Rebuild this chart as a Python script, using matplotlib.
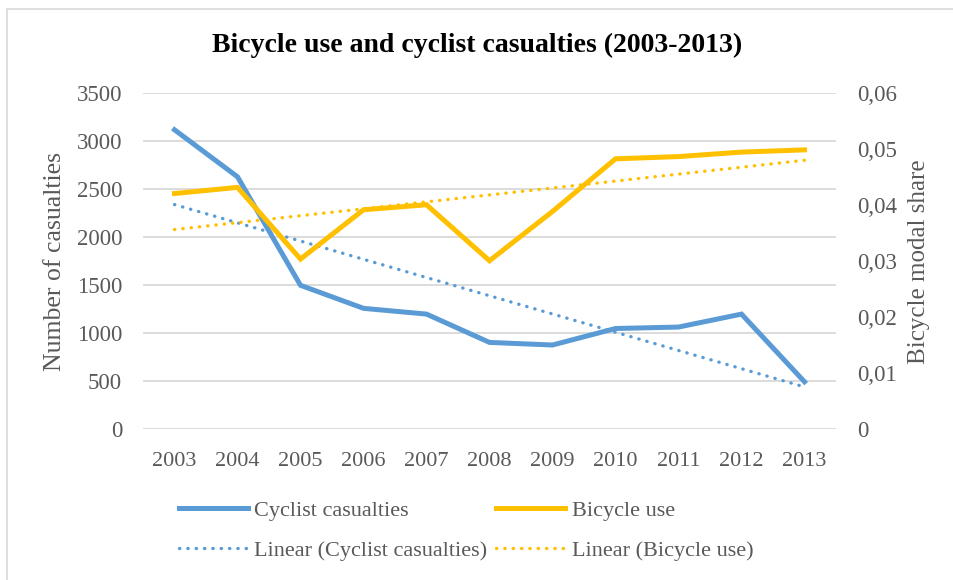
import numpy as np
import matplotlib
matplotlib.use("Agg")
import matplotlib.pyplot as plt
from matplotlib.patches import Rectangle
from matplotlib.ticker import FuncFormatter

years = ["2003", "2004", "2005", "2006", "2007", "2008", "2009", "2010", "2011", "2012", "2013"]
casualties = [3120, 2630, 1500, 1260, 1200, 905, 878, 1050, 1065, 1200, 495]
bicycle_use = [0.0421, 0.0432, 0.0304, 0.0392, 0.0401, 0.0301, 0.0389, 0.0483, 0.0487, 0.0495, 0.0499]

blue = "#5B9BD5"
gold = "#FFC000"
grey_txt = "#595959"
grid_col = "#D9D9D9"

plt.rcParams["font.family"] = ["Liberation Serif", "DejaVu Serif"]

fig = plt.figure(figsize=(9.54, 5.80), dpi=100)
fig.patches.append(Rectangle((7 / 954, -0.1), 1.2, 0.1 + 1 - 9 / 580, transform=fig.transFigure,
                             fill=False, edgecolor=grid_col, lw=1.2, zorder=0))

ax = fig.add_axes([143 / 954, 1 - 429.3 / 580, 693 / 954, 336 / 580])
ax2 = ax.twinx()

x = np.arange(len(years))

# trend lines (Excel "Linear" trendline = least squares fit)
c_fit = np.polyval(np.polyfit(x, casualties, 1), x)
b_fit = np.polyval(np.polyfit(x, bicycle_use, 1), x)

dot = (0, (0.1, 2.4))
l1, = ax.plot(x, casualties, color=blue, lw=3.6, solid_joinstyle="miter", zorder=3)
l3, = ax.plot(x, c_fit, color=blue, lw=2.4, linestyle=dot, dash_capstyle="round", zorder=3)
l2, = ax2.plot(x, bicycle_use, color=gold, lw=3.6, solid_joinstyle="miter", zorder=3)
l4, = ax2.plot(x, b_fit, color=gold, lw=2.4, linestyle=dot, dash_capstyle="round", zorder=3)

ax.set_xlim(-0.5, len(years) - 0.5)
ax.set_ylim(0, 3500)
ax.set_yticks(np.arange(0, 3501, 500))
ax2.set_ylim(0, 0.06)
ax2.set_yticks(np.arange(0, 0.0601, 0.01))
ax2.yaxis.set_major_formatter(FuncFormatter(lambda v, p: "0" if abs(v) < 1e-9 else f"{v:.2f}".replace(".", ",")))

ax.set_xticks(x)
ax.set_xticklabels(years)
ax.grid(axis="y", color=grid_col, lw=1.3)
ax.set_axisbelow(True)
for a in (ax, ax2):
    for s in a.spines.values():
        s.set_visible(False)
ax.tick_params(axis="x", length=0, pad=16, labelsize=16, labelcolor=grey_txt)
ax.tick_params(axis="y", length=0, pad=15, labelsize=16.5, labelcolor=grey_txt)
ax2.tick_params(axis="y", length=0, pad=15, labelsize=16.5, labelcolor=grey_txt)

ax.set_ylabel("Number of casualties", fontsize=18.5, color=grey_txt, labelpad=8)
ax2.set_ylabel("Bicycle modal share", fontsize=18, color=grey_txt, labelpad=8)

fig.text(0.5, 1 - 45 / 580, "Bicycle use and cyclist casualties (2003-2013)", ha="center", va="center",
         fontsize=20, fontweight="bold", color="black")

# column-wise fill: (solid, trend) per series
fig.legend([l1, l3, l2, l4],
           ["Cyclist casualties", "Linear (Cyclist casualties)", "Bicycle use", "Linear (Bicycle use)"],
           ncol=2, loc="upper left", bbox_to_anchor=(172 / 954, 1 - 494 / 580), frameon=False,
           fontsize=16, labelcolor=grey_txt, handlelength=3.1, handletextpad=0.3, columnspacing=0.4,
           labelspacing=0.85, borderaxespad=0, borderpad=0.3)

fig.savefig("out.png", dpi=100)
